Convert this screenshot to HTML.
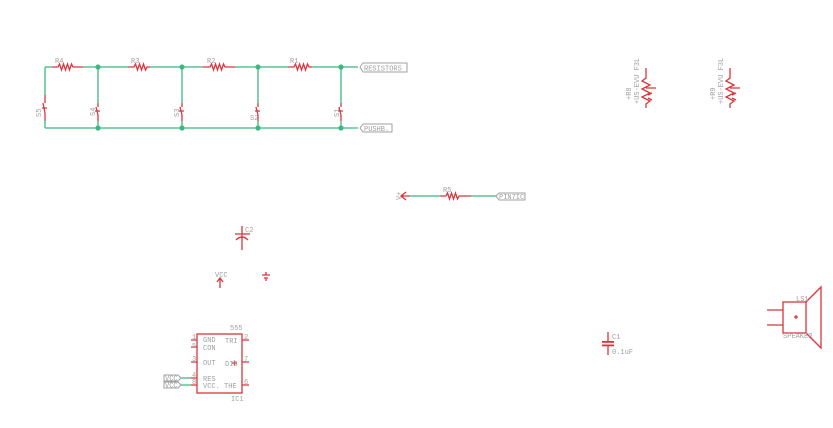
<!DOCTYPE html>
<html><head><meta charset="utf-8"><style>
html,body{margin:0;padding:0;background:#fff;width:833px;height:428px;overflow:hidden}
svg{display:block}
text{font-family:"Liberation Mono",monospace;fill:#a0a0a0;font-size:7px}
.r{stroke:#d8363c;stroke-width:1.3;fill:none}
.g{stroke:#3cb882;stroke-width:1.3;fill:none}
.lb{stroke:#a0a0a0;stroke-width:1;fill:#fff}
</style></head><body>
<svg width="833" height="428" viewBox="0 0 833 428">
<path class="g" d="M45 67H52M83 67H128M150 67H203M235 67H288M312 67H358"/>
<path class="g" d="M45 128H358"/>
<g class="r">
<path d="M52 67H58l1.5-3 2 6 2-6 2 6 2-6 2 6 2-6 1.5 3H83"/>
<path d="M128 67H134l1.5-3 2 6 2-6 2 6 2-6 2 6 1.5-3H150"/>
<path d="M203 67H210l1.5-3 2 6 2-6 2 6 2-6 2 6 2-6 1.5 3H235"/>
<path d="M288 67H294l1.5-3 2 6 2-6 2 6 2-6 2 6 2-6 1.5 3H312"/>
</g>
<text x="55" y="63">R4</text><text x="131" y="63">R3</text><text x="207" y="63">R2</text><text x="290" y="63">R1</text>
<g>
<path class="g" d="M45 67V95M98 67V103M182 67V103M258 67V103M341 67V103"/>
<path class="g" d="M45 121V128M98 121V128M182 121V128M258 121V128M341 121V128"/>
<g class="r">
<path d="M45 95V103M43 103l2 10M45 113V121M42 108h5"/>
<path d="M98 103V107M96 107l2 8M98 115V121M95 111h5"/>
<path d="M182 103V107M180 107l2 8M182 115V121M179 111h5"/>
<path d="M258 103V107M256 107l2 8M258 115V121M255 111h5"/>
<path d="M341 103V107M339 107l2 8M341 115V121M338 111h5"/>
</g>
<text x="33" y="115" transform="rotate(-90 38 112)">S5</text>
<text x="88" y="115" transform="rotate(-90 92 112)">S4</text>
<text x="171" y="115" transform="rotate(-90 176 112)">S3</text>
<text x="250" y="120">S2</text>
<text x="331" y="115" transform="rotate(-90 336 112)">S1</text>
</g>
<g fill="#3cb882">
<circle cx="98" cy="67" r="2.6"/><circle cx="182" cy="67" r="2.6"/><circle cx="258" cy="67" r="2.6"/><circle cx="341" cy="67" r="2.6"/>
<circle cx="98" cy="128" r="2.6"/><circle cx="182" cy="128" r="2.6"/><circle cx="258" cy="128" r="2.6"/><circle cx="341" cy="128" r="2.6"/>
</g>
<path class="lb" d="M360 67l3-4H407V72H363z"/><text x="364" y="70.5">RESISTORS</text>
<path class="lb" d="M360 128l3-4H392V132H363z"/><text x="364" y="131">PUSHB.</text>
<path class="g" d="M410 196H440M471 196H496"/>
<path class="r" d="M401 196H410M440 196H446l1.5-3 2 6 2-6 2 6 2-6 2 6 1.5-3H471M401 196l5-4M401 196l5 4"/>
<circle cx="402" cy="196" r="1.5" fill="#d8363c"/>
<text x="443" y="192">R5</text>
<text x="395" y="200" transform="rotate(-90 398 197)">V+</text>
<path class="lb" d="M496 196l3-3H525V200H499z"/><text x="499" y="199">PIN7IC</text>
<g class="r">
<path d="M242 226V250M235 234H250M236 240q6-6 12 0"/>
</g>
<text x="245" y="232">C2</text>
<path class="r" d="M220 288V278M217 282l3-4 3 4"/>
<text x="215" y="277">VCC</text>
<path class="r" d="M266 272V275M262 275H270M264 278H268M266 278V281"/>
<rect x="197" y="334" width="45" height="59" class="r"/>
<g class="r">
<path d="M191 340H197M191 347H197M191 362H197M191 378H197M191 385H197"/>
<path d="M242 340H249M242 362H249M242 385H249M232 363H237M234.5 360.5V365.5"/>
</g>
<path class="g" d="M181 378H191M181 385H191"/>
<text x="230" y="330">555</text>
<text x="203" y="342">GND</text><text x="203" y="350">CON</text>
<text x="203" y="365">OUT</text><text x="203" y="381">RES</text><text x="203" y="388">VCC.</text>
<text x="225" y="343">TRI</text><text x="225" y="366">DIS</text><text x="224" y="388">THE</text>
<text x="192" y="339" font-size="6">1</text><text x="192" y="348" font-size="6">5</text><text x="192" y="361" font-size="6">3</text><text x="192" y="377" font-size="6">4</text><text x="192" y="384" font-size="6">8</text>
<text x="244" y="339" font-size="6">2</text><text x="244" y="361" font-size="6">7</text><text x="244" y="384" font-size="6">6</text>
<text x="231" y="401">IC1</text>
<path class="lb" d="M164 375H178l3 3-3 3H164z"/><text x="165" y="380.5">VCC</text>
<path class="lb" d="M164 382H178l3 3-3 3H164z"/><text x="165" y="387.5">VCC</text>
<g class="r">
<path d="M646 68V78l-4 3 8 4-8 4 8 4-8 4 8 4-4 3V108M646 88H656M648 95l4-2M648 98l4 2"/>
<path d="M730 68V78l-4 3 8 4-8 4 8 4-8 4 8 4-4 3V108M730 88H740M732 95l4-2M732 98l4 2"/>
</g>
<text x="0" y="0" transform="translate(639 104) rotate(-90)">+US-EVU F3L</text>
<text x="0" y="0" transform="translate(631 100) rotate(-90)">+R8</text>
<text x="0" y="0" transform="translate(723 104) rotate(-90)">+US-EVU F3L</text>
<text x="0" y="0" transform="translate(715 100) rotate(-90)">+R9</text>
<g class="r">
<path d="M608 332V341M608 346V355" />
<rect x="602" y="341" width="12" height="1.8" fill="#d8363c" stroke="none"/>
<rect x="602" y="344.5" width="12" height="1.8" fill="#d8363c" stroke="none"/>
</g>
<text x="612" y="339">C1</text><text x="612" y="354">0.1uF</text>
<g class="r">
<rect x="783" y="302" width="23" height="31"/>
<path d="M767 310H783M767 325H783M806 302L821 287V348L806 333M794 317H798M796 315V319"/>
</g>
<text x="796" y="301" font-size="5">LS1</text>
<text x="783" y="338" font-size="5">SPEAKER</text>
</svg>
</body></html>
